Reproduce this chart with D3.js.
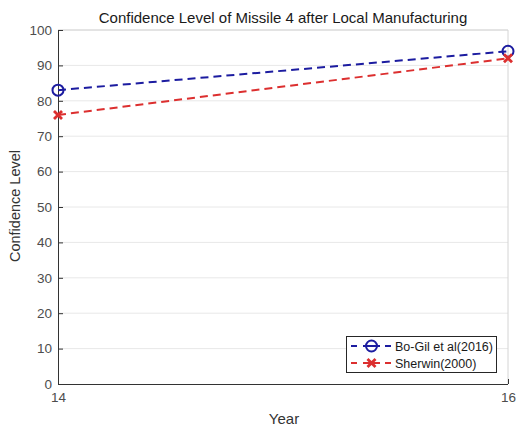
<!DOCTYPE html>
<html>
<head>
<meta charset="utf-8">
<script src="https://cdn.jsdelivr.net/npm/d3@7"></script>
<style>
  html, body { margin: 0; padding: 0; background: #fff; }
  svg { display: block; font-family: "Liberation Sans", Arial, sans-serif; }
</style>
</head>
<body>
<svg id="chart" width="516" height="428"></svg>
<script>
// Data
const years = [14, 16];
const boGil = [83, 94];
const sherwin = [76, 92];
const seriesNames = ["Bo-Gil et al(2016)", "Sherwin(2000)"];
const yTicks = [0, 10, 20, 30, 40, 50, 60, 70, 80, 90, 100];
const xTicks = [14, 16];

const svg = d3.select("#chart");
const m = { left: 58, right: 508, top: 30, bottom: 384 };

const x = d3.scaleLinear().domain([14, 16]).range([m.left, m.right]);
const y = d3.scaleLinear().domain([0, 100]).range([m.bottom, m.top]);

// Grid
svg.append("g").selectAll("line").data(yTicks.slice(1)).join("line")
  .attr("x1", m.left).attr("x2", m.right)
  .attr("y1", d => y(d)).attr("y2", d => y(d))
  .attr("stroke", "#e8e8e8").attr("stroke-width", 1);

// Box top/right
svg.append("path")
  .attr("d", `M${m.left},${m.top}H${m.right}V${m.bottom}`)
  .attr("fill", "none").attr("stroke", "#d4d4d4").attr("stroke-width", 1);

// Axes
const yAxis = d3.axisLeft(y).tickValues(yTicks).tickSize(-5).tickPadding(6);
const gy = svg.append("g").attr("transform", `translate(${m.left},0)`).call(yAxis);
const xAxis = d3.axisBottom(x).tickValues(xTicks).tickSize(-5).tickPadding(8).tickFormat(d3.format("d"));
const gx = svg.append("g").attr("transform", `translate(0,${m.bottom})`).call(xAxis);
[gy, gx].forEach(g => {
  g.select(".domain").attr("stroke", "#333").attr("stroke-width", 1);
  g.selectAll(".tick line").attr("stroke", "#333");
  g.selectAll(".tick text").attr("fill", "#4d4d4d").style("font-size", "13.5px")
    .style("font-family", "'Liberation Sans', Arial, sans-serif");
});
gy.select(".domain").attr("d", `M0.5,${m.bottom}V${m.top}`);
gx.select(".domain").attr("d", `M${m.left},0.5H${m.right}`);

// Title and labels
svg.append("text").attr("x", 283).attr("y", 23).attr("text-anchor", "middle")
  .attr("fill", "#1a1a1a").style("font-size", "15px")
  .text("Confidence Level of Missile 4 after Local Manufacturing");
svg.append("text").attr("x", 284).attr("y", 424).attr("text-anchor", "middle")
  .attr("fill", "#333").style("font-size", "15px").text("Year");
svg.append("text").attr("transform", "translate(20,206) rotate(-90)")
  .attr("text-anchor", "middle").attr("fill", "#333").style("font-size", "14.5px")
  .text("Confidence Level");

const blue = "#1c1ca0", red = "#dc2f2f";
const line = d3.line().x((d, i) => x(years[i])).y(d => y(d));

function circleMarker(g, cx, cy, color) {
  g.append("circle").attr("cx", cx).attr("cy", cy).attr("r", 5.5)
    .attr("fill", "none").attr("stroke", color).attr("stroke-width", 2);
}
function crossMarker(g, cx, cy, color) {
  const s = 4;
  g.append("path").attr("d", `M${cx - s},${cy - s}L${cx + s},${cy + s}M${cx - s},${cy + s}L${cx + s},${cy - s}`)
    .attr("stroke", color).attr("stroke-width", 2.8).attr("fill", "none");
}

const plot = svg.append("g");
plot.append("path").datum(boGil).attr("d", line).attr("fill", "none")
  .attr("stroke", blue).attr("stroke-width", 2).attr("stroke-dasharray", "8,5");
plot.append("path").datum(sherwin).attr("d", line).attr("fill", "none")
  .attr("stroke", red).attr("stroke-width", 2).attr("stroke-dasharray", "8,5");
boGil.forEach((v, i) => circleMarker(plot, x(years[i]), y(v), blue));
sherwin.forEach((v, i) => crossMarker(plot, x(years[i]), y(v), red));

// Legend
const lg = svg.append("g");
lg.append("rect").attr("x", 346.5).attr("y", 336.5).attr("width", 150).attr("height", 36)
  .attr("fill", "#fff").attr("stroke", "#262626").attr("stroke-width", 1);
const entries = [
  { name: seriesNames[0], color: blue, marker: circleMarker, yy: 346 },
  { name: seriesNames[1], color: red, marker: crossMarker, yy: 363 }
];
entries.forEach(e => {
  // short dash, segment through the marker, short dash
  lg.append("line").attr("x1", 351).attr("x2", 391).attr("y1", e.yy).attr("y2", e.yy)
    .attr("stroke", e.color).attr("stroke-width", 2).attr("stroke-dasharray", "6,6,17,5,6");
  e.marker(lg, 371.5, e.yy, e.color);
  lg.append("text").attr("x", 395).attr("y", e.yy + 4.5).attr("fill", "#1a1a1a")
    .style("font-size", "12.5px").text(e.name);
});
</script>
</body>
</html>
